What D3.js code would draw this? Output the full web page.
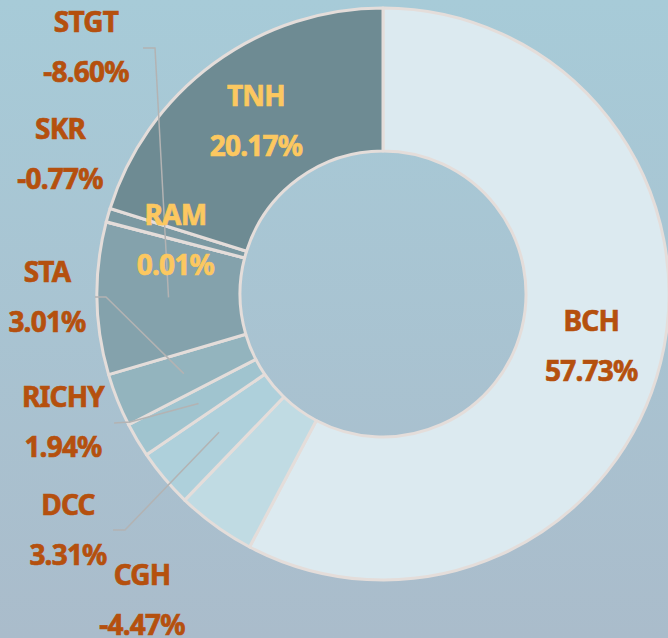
<!DOCTYPE html>
<html lang="en">
<head>
    <meta charset="UTF-8">
    <title>Donut</title>
    <script src="https://d3js.org/d3.v7.min.js"></script>
    <style>
        body { margin: 0; }
        .lbl { font-family: "Noto Sans", sans-serif; font-weight: 700; font-size: 28px; letter-spacing: -0.8px; stroke-width: 0.7px; }
        .leader { fill: none; stroke: #b3b3b3; stroke-width: 1.5px; }
    </style>
</head>
<body>
    <div id="chart"></div>
    <script>
        // data, clockwise from 12 o'clock
        const names = ["BCH", "CGH", "DCC", "RICHY", "STA", "STGT", "RAM", "SKR", "TNH"];
        const values = [57.73, -4.47, 3.31, 1.94, 3.01, -8.60, 0.01, -0.77, 20.17];
        const colors = ["#dceaf0", "#c0dbe3", "#aed0db", "#a0c4cf", "#93b4be", "#84a2ac", "#7f9ea7", "#7b99a2", "#6e8b93"];

        // labels drawn outside the ring: label centre and leader elbow/end
        const outside = {
            STGT:  { at: [86, 47],  elbow: [155, 48],  end: [143, 48] },
            SKR:   { at: [60, 154] },
            STA:   { at: [47, 297], elbow: [106, 297], end: [95, 297] },
            RICHY: { at: [63, 422], elbow: [130, 422], end: [114, 423] },
            DCC:   { at: [68, 530], elbow: [125, 530], end: [113, 530] },
            CGH:   { at: [142, 600] }
        };
        const yellow = new Set(["TNH", "RAM"]);

        const width = 668, height = 638;
        const cx = 383, cy = 294;
        const outerR = 286, innerR = 143;

        const svg = d3.select("#chart").append("svg")
            .attr("width", width)
            .attr("height", height);

        const grad = svg.append("defs").append("linearGradient")
            .attr("id", "bg").attr("x1", 0).attr("y1", 0).attr("x2", 0).attr("y2", 1);
        grad.append("stop").attr("offset", "0%").attr("stop-color", "#a7cbd8");
        grad.append("stop").attr("offset", "100%").attr("stop-color", "#aabccb");

        svg.append("rect").attr("width", width).attr("height", height).attr("fill", "url(#bg)");

        const data = names.map((n, i) => ({ name: n, value: values[i], color: colors[i] }));

        const pie = d3.pie().sort(null).value(d => Math.abs(d.value));
        const arc = d3.arc().innerRadius(innerR).outerRadius(outerR);
        const mid = d3.arc().innerRadius((innerR + outerR) / 2).outerRadius((innerR + outerR) / 2);

        const arcs = pie(data);
        const g = svg.append("g").attr("transform", `translate(${cx},${cy})`);

        g.selectAll("path.slice")
            .data(arcs)
            .enter().append("path")
            .attr("class", "slice")
            .attr("d", arc)
            .attr("fill", d => d.data.color)
            .attr("stroke", "#e4ddda")
            .attr("stroke-width", 3)
            .attr("stroke-linejoin", "round");

        // leader lines
        arcs.forEach(d => {
            const o = outside[d.data.name];
            if (!o || !o.elbow) return;
            const c = mid.centroid(d);
            const pts = [[c[0] + cx, c[1] + cy], o.elbow, o.end];
            svg.append("path")
                .attr("class", "leader")
                .attr("d", d3.line()(pts));
        });

        const fmt = v => v.toFixed(2) + "%";

        arcs.forEach(d => {
            const o = outside[d.data.name];
            let x, y;
            if (o) {
                [x, y] = o.at;
            } else {
                const c = mid.centroid(d);
                x = c[0] + cx; y = c[1] + cy;
            }
            const fill = yellow.has(d.data.name) ? "#fcc860" : "#b5500e";
            const t = svg.append("text")
                .attr("class", "lbl")
                .attr("text-anchor", "middle")
                .attr("fill", fill)
                .attr("stroke", fill);
            t.append("tspan").attr("x", x).attr("y", y - 15).text(d.data.name);
            t.append("tspan").attr("x", x).attr("y", y + 35).text(fmt(d.data.value));
        });
    </script>
</body>
</html>
